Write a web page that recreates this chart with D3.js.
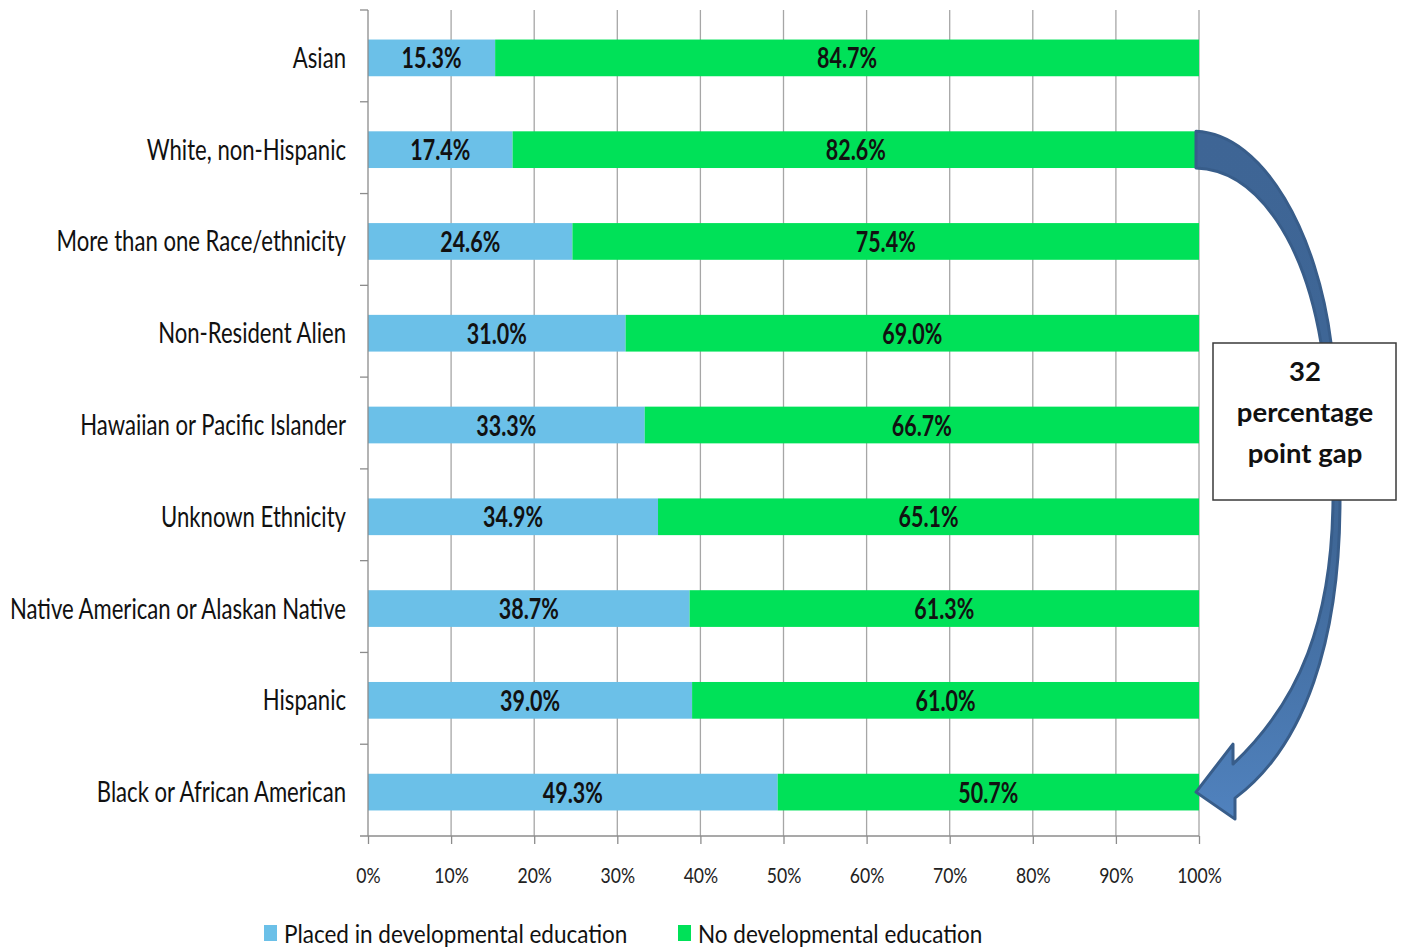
<!DOCTYPE html>
<html>
<head>
<meta charset="utf-8">
<script src="https://cdn.jsdelivr.net/npm/d3@7"></script>
<style>
  body { margin: 0; background: #fff; }
  svg { display: block; }
</style>
</head>
<body>
<div id="chart"></div>
<script>
// data
const categories = ["Asian", "White, non-Hispanic", "More than one Race/ethnicity", "Non-Resident Alien",
  "Hawaiian or Pacific Islander", "Unknown Ethnicity", "Native American or Alaskan Native",
  "Hispanic", "Black or African American"];
const placed = [15.3, 17.4, 24.6, 31.0, 33.3, 34.9, 38.7, 39.0, 49.3];
const noDev = [84.7, 82.6, 75.4, 69.0, 66.7, 65.1, 61.3, 61.0, 50.7];
const xTicks = [0, 10, 20, 30, 40, 50, 60, 70, 80, 90, 100];
const seriesNames = ["Placed in developmental education", "No developmental education"];
const gapLines = ["32", "percentage", "point gap"];

const W = 1403, H = 951;
const FONT = "Lato, 'Open Sans', sans-serif";
const blue = "#6bc0e8", green = "#00e158";

const svg = d3.select("#chart").append("svg")
  .attr("width", W).attr("height", H);

const x = d3.scaleLinear().domain([0, 100]).range([368, 1199]);
const y = d3.scaleBand().domain(categories).range([10, 836]).padding(0);
const barH = y.bandwidth() * 0.4;
const barY = d => y(d) + (y.bandwidth() - barH) / 2 + 2;
const midY = d => barY(d) + barH / 2;

// squeeze text horizontally (reference font is a narrow one)
function squeeze(sel, sx) {
  sel.each(function () {
    const t = d3.select(this);
    const tx = +t.attr("x") || 0, ty = +t.attr("y") || 0;
    t.attr("x", 0).attr("y", 0).attr("transform", `translate(${tx},${ty}) scale(${sx},1)`);
  });
}

// gridlines
svg.append("g").selectAll("line")
  .data(xTicks.slice(1))
  .join("line")
  .attr("x1", d => x(d)).attr("x2", d => x(d))
  .attr("y1", 10).attr("y2", 836)
  .attr("stroke", "#a6a6a6").attr("stroke-width", 1.3);

// bars
const rows = categories.map((c, i) => ({ cat: c, a: placed[i], b: noDev[i] }));
const g = svg.append("g");
g.selectAll(".blue").data(rows).join("rect")
  .attr("x", x(0)).attr("y", d => barY(d.cat))
  .attr("width", d => x(d.a) - x(0)).attr("height", barH)
  .attr("fill", blue);
g.selectAll(".green").data(rows).join("rect")
  .attr("x", d => x(d.a)).attr("y", d => barY(d.cat))
  .attr("width", d => x(d.a + d.b) - x(d.a)).attr("height", barH)
  .attr("fill", green);

// bar labels
const lab = svg.append("g").attr("font-family", FONT).attr("font-weight", "bold")
  .attr("font-size", 29).attr("fill", "#111").attr("text-anchor", "middle");
lab.selectAll(".la").data(rows).join("text")
  .attr("x", d => (x(0) + x(d.a)) / 2)
  .attr("y", d => midY(d.cat) + 10.5)
  .text(d => d.a.toFixed(1) + "%");
lab.selectAll(".lb").data(rows).join("text")
  .attr("x", d => (x(d.a) + x(d.a + d.b)) / 2)
  .attr("y", d => midY(d.cat) + 10.5)
  .text(d => d.b.toFixed(1) + "%");
squeeze(lab.selectAll("text"), 0.74);

// left axis with ticks at band boundaries
const yAx = svg.append("g").attr("stroke", "#8c8c8c").attr("stroke-width", 1.3);
yAx.append("line").attr("x1", x(0)).attr("x2", x(0)).attr("y1", 10).attr("y2", 836);
yAx.selectAll(".tk").data(categories.map(c => y(c)))
  .join("line")
  .attr("x1", x(0) - 8).attr("x2", x(0)).attr("y1", d => d).attr("y2", d => d);

const cats = svg.append("g").attr("font-family", FONT).attr("font-size", 28)
  .attr("fill", "#111").attr("text-anchor", "end");
cats.selectAll("text").data(categories).join("text")
  .attr("x", 346).attr("y", d => midY(d) + 10)
  .text(d => d);
squeeze(cats.selectAll("text"), 0.79);

// bottom axis
const xAx = svg.append("g")
  .attr("transform", "translate(0,836)")
  .call(d3.axisBottom(x).tickValues(xTicks).tickFormat(d => d + "%").tickSize(8).tickSizeOuter(0));
xAx.select(".domain").attr("stroke", "#8c8c8c").attr("stroke-width", 1.3)
  .attr("d", `M${x(0) - 8},0H${x(100)}`);
xAx.selectAll(".tick line").attr("stroke", "#8c8c8c").attr("stroke-width", 1.3);
xAx.selectAll(".tick text")
  .attr("font-family", FONT).attr("font-size", 22).attr("fill", "#222")
  .attr("dy", null).attr("y", 47);
squeeze(xAx.selectAll(".tick text"), 0.8);

// legend
const leg = svg.append("g").attr("font-family", FONT).attr("font-size", 25).attr("fill", "#111");
const legX = [264, 678];
seriesNames.forEach((s, i) => {
  leg.append("rect").attr("x", legX[i]).attr("y", 925).attr("width", 13).attr("height", 16)
    .attr("fill", i === 0 ? blue : green);
  leg.append("text").attr("x", legX[i] + 20).attr("y", 943).text(s);
});
squeeze(leg.selectAll("text"), 0.9);

// curved arrow annotation
const defs = svg.append("defs");
const grad = defs.append("linearGradient").attr("id", "arrowGrad")
  .attr("x1", 0).attr("y1", 0).attr("x2", 0).attr("y2", 1);
grad.append("stop").attr("offset", 0).attr("stop-color", "#3e6595");
grad.append("stop").attr("offset", 0.6).attr("stop-color", "#3f6797");
grad.append("stop").attr("offset", 1).attr("stop-color", "#5082be");

const sX = x(100) - 3;
const sTop = barY(categories[1]), sBot = sTop + barH;
const tipY = midY(categories[8]);
const p = d3.path();
p.moveTo(sX, sTop);
p.bezierCurveTo(sX + 69, sTop + 3, sX + 122, sTop + 105, sX + 135, 343);
p.lineTo(sX + 144, 500);
p.bezierCurveTo(sX + 144, 640, sX + 109, tipY - 46, sX + 39, tipY + 6);
p.lineTo(sX + 39, tipY + 27);
p.lineTo(sX, tipY);
p.lineTo(sX + 37, tipY - 48);
p.lineTo(sX + 37, tipY - 28);
p.bezierCurveTo(sX + 104, tipY - 91, sX + 136, 620, sX + 137, 500);
p.lineTo(sX + 125, 343);
p.bezierCurveTo(sX + 109, sBot + 79, sX + 64, sBot + 2, sX, sBot);
p.closePath();
svg.append("path").attr("d", p.toString())
  .attr("fill", "url(#arrowGrad)").attr("stroke", "#385d8a").attr("stroke-width", 3)
  .attr("stroke-linejoin", "round");

// gap box
const box = svg.append("g");
box.append("rect").attr("x", 1213).attr("y", 343).attr("width", 183).attr("height", 157)
  .attr("fill", "#fff").attr("stroke", "#3a3a3a").attr("stroke-width", 1.5);
box.selectAll("text").data(gapLines).join("text")
  .attr("x", 1305).attr("y", (d, i) => 381 + i * 41)
  .attr("text-anchor", "middle").attr("font-family", FONT).attr("font-weight", "bold")
  .attr("font-size", 27.5).attr("fill", "#111")
  .text(d => d);
</script>
</body>
</html>
